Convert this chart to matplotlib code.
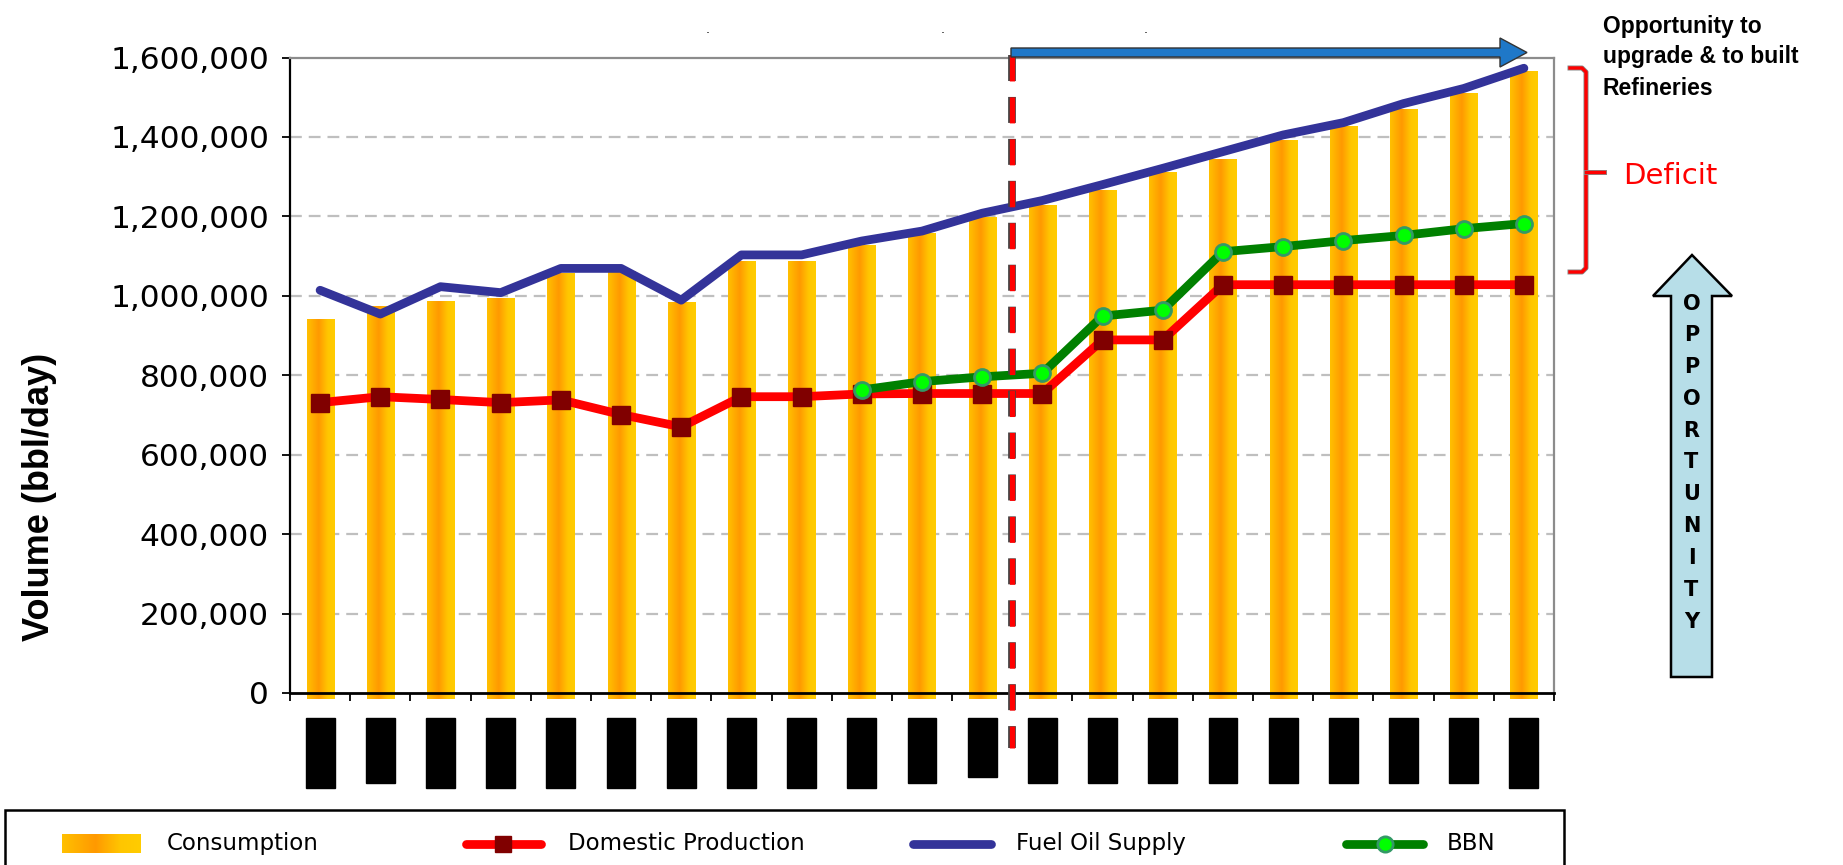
import numpy as np
import matplotlib
matplotlib.use('Agg')
import matplotlib.pyplot as plt
import matplotlib.patheffects as pe
from matplotlib import transforms, font_manager
from matplotlib.colors import LinearSegmentedColormap
from matplotlib.patches import Rectangle, Polygon
from matplotlib.lines import Line2D
from matplotlib.ticker import FuncFormatter

plt.rcParams['lines.scale_dashes'] = False

# volumes in bbl/day, one value per period
consumption = [941000, 974000, 987000, 994000, 1057000, 1062000, 983000, 1087000,
               1087000, 1128000, 1157000, 1197000, 1228000, 1264000, 1310000, 1344000,
               1390000, 1426000, 1470000, 1510000, 1566000]
fuel_oil_supply = [1014000, 954000, 1023000, 1008000, 1069000, 1069000, 989000, 1103000,
                   1103000, 1138000, 1163000, 1208000, 1240000, 1280000, 1321000, 1363000,
                   1405000, 1436000, 1484000, 1522000, 1573000]
domestic_prod = [731000, 746000, 739000, 731000, 738000, 701000, 670000, 746000,
                 746000, 753000, 754000, 754000, 754000, 889000, 889000, 1028000,
                 1028000, 1028000, 1028000, 1028000, 1028000]
bbn = [np.nan] * 9 + [763000, 784000, 796000, 805000, 949000, 964000, 1111000,
                      1124000, 1139000, 1152000, 1169000, 1182000]
y_ticks = [0, 200000, 400000, 600000, 800000, 1000000, 1200000, 1400000, 1600000]
legend_names = ['Consumption', 'Domestic Production', 'Fuel Oil Supply', 'BBN']
note_lines = ['Opportunity to', 'upgrade & to built', 'Refineries']

# heights (px) of the blacked-out period labels
label_box_px = [70, 65, 70, 70, 70, 70, 70, 70, 70, 70, 65, 59,
                65, 65, 65, 65, 65, 65, 65, 65, 70]

W, H = 1843, 865


def fx(x):
    return x / W


def fy(y):
    return 1 - y / H


names = {f.name for f in font_manager.fontManager.ttflist}
bold_face = 'Liberation Sans' if 'Liberation Sans' in names else 'DejaVu Sans'
if bold_face == 'Liberation Sans':
    ylab_kw = dict(family=bold_face, fontsize=26, fontweight='bold')
    note_kw = dict(family=bold_face, fontsize=16.5, fontweight='bold')
else:
    ylab_kw = dict(family=bold_face, fontsize=22, fontweight='bold')
    note_kw = dict(family=bold_face, fontsize=14, fontweight='bold')

fig = plt.figure(figsize=(W / 100, H / 100), dpi=100)
ax_top, ax_bot = 57.5, 693
ax = fig.add_axes([fx(290), fy(ax_bot), (1554 - 290) / W, (ax_bot - ax_top) / H])

x = np.arange(len(consumption))

# gradient-filled bars
bar_cmap = LinearSegmentedColormap.from_list(
    'bar', [(0, '#FFC000'), (0.42, '#FF9900'), (0.75, '#FFC600'), (1, '#FFCC00')])
grad = np.linspace(0, 1, 64).reshape(1, -1)
bar_w = 0.45
drop = 15000
for xi, v in zip(x, consumption):
    im = ax.imshow(grad, cmap=bar_cmap, extent=(xi - bar_w / 2, xi + bar_w / 2, -drop, v),
                   aspect='auto', zorder=2, interpolation='bilinear')
    im.set_clip_on(False)

ax.plot(x, fuel_oil_supply, color='#333399', lw=6.3, zorder=3,
        solid_joinstyle='round', solid_capstyle='round')
ax.plot(x, domestic_prod, color='#FF0000', lw=6.3, zorder=4, marker='s', ms=13,
        mfc='#800000', mec='#800000', solid_capstyle='round')
ax.plot(x, bbn, color='#008000', lw=6.3, zorder=5, marker='o', ms=11.5,
        mfc='#00FF00', mec='#339966', mew=2, solid_capstyle='round')

ax.set_xlim(-0.5, len(x) - 0.5)
ax.set_ylim(0, 1600000)
ax.set_yticks(y_ticks)
ax.yaxis.set_major_formatter(FuncFormatter(lambda v, p: f'{v:,.0f}'))
ax.tick_params(axis='y', labelsize=22.5, length=6, width=1.3, pad=9, direction='out')
ax.set_xticks(np.arange(-0.5, len(x), 1))
ax.tick_params(axis='x', length=6, width=1.3, labelbottom=False, direction='out')
ax.set_axisbelow(True)
for yv in y_ticks[1:-1]:
    ax.axhline(yv, color='#BFBFBF', lw=1.6, dashes=(8.5, 5), zorder=1)

ax.spines['left'].set_linewidth(1.6)
ax.spines['bottom'].set_linewidth(2)
for s in ['top', 'right']:
    ax.spines[s].set_color('#8C8C8C')
    ax.spines[s].set_linewidth(1.6)

fig.text(fx(40), fy(497), 'Volume (bbl/day)', rotation=90, ha='center', va='center', **ylab_kw)

# blacked-out period labels
ax_h = ax_bot - ax_top
xt = ax.get_xaxis_transform()
for xi, h in zip(x, label_box_px):
    ax.add_patch(Rectangle((xi - 0.24, -(718 - ax_bot) / ax_h), 0.48, -h / ax_h,
                           transform=xt, color='black', clip_on=False, zorder=2))

# divider between historic and outlook periods
bt = transforms.blended_transform_factory(ax.transData, fig.transFigure)
fig.add_artist(Line2D([11.5, 11.5], [fy(55), fy(748)], transform=bt, color='#FF0000',
                      lw=3.8, dashes=(18.7, 11.5), zorder=6,
                      path_effects=[pe.Stroke(linewidth=5.6, foreground='#444444'), pe.Normal()]))

# horizontal opportunity arrow
arrow_px = [(1011, 48), (1500, 48), (1500, 38), (1527, 52.5), (1500, 67), (1500, 57), (1011, 57)]
fig.add_artist(Polygon([(fx(a), fy(b)) for a, b in arrow_px], closed=True, transform=fig.transFigure,
                       fc='#1F78C8', ec='#333333', lw=1, zorder=7))

# deficit bracket
brk = [(1570, 68), (1582, 68), (1586, 72), (1586, 268), (1582, 272), (1570, 272)]
fig.add_artist(Line2D([fx(a) for a, b in brk], [fy(b) for a, b in brk], transform=fig.transFigure,
                      color='#FF0000', lw=2.4, solid_joinstyle='round', zorder=6,
                      path_effects=[pe.Stroke(linewidth=3.6, foreground='#888888'), pe.Normal()]))
fig.add_artist(Line2D([fx(1586), fx(1604)], [fy(171.5), fy(171.5)], transform=fig.transFigure,
                      color='#FF0000', lw=2.4, zorder=6,
                      path_effects=[pe.Stroke(linewidth=3.6, foreground='#888888'), pe.Normal()]))
fig.text(fx(1623), fy(184), 'Deficit', color='#FF0000', fontsize=21, va='baseline')

for line, base in zip(note_lines, [33.3, 63.3, 95]):
    fig.text(fx(1603), fy(base), line, va='baseline', **note_kw)

# vertical OPPORTUNITY arrow
up_px = [(1671, 677), (1671, 296), (1653, 296), (1692, 255), (1732, 296), (1712, 296), (1712, 677)]
fig.add_artist(Polygon([(fx(a), fy(b)) for a, b in up_px], closed=True, transform=fig.transFigure,
                       fc='#B7DEE8', ec='black', lw=1.8, zorder=6))
for k, ch in enumerate('OPPORTUNITY'):
    fig.text(fx(1691.5), fy(303.5 + k * 31.8), ch, ha='center', va='center',
             fontsize=15, fontweight='bold', zorder=7)

# remnants of the clipped heading
for px_x in [708, 943, 1146]:
    fig.text(fx(px_x), fy(33), '.', fontsize=9, ha='center', va='baseline')

# legend
fig.add_artist(Rectangle((fx(4.6), fy(910)), (1564 - 4.6) / W, (910 - 810) / H, fill=False,
                         ec='black', lw=1.8, transform=fig.transFigure))
ly = fy(843.5)
sw = fig.add_axes([fx(62), fy(853), 79 / W, 19 / H])
sw.imshow(grad, cmap=bar_cmap, aspect='auto', interpolation='bilinear')
sw.axis('off')
fig.text(fx(166.5), ly, legend_names[0], va='center', fontsize=16.5)

fig.add_artist(Line2D([fx(466), fx(541)], [ly, ly], transform=fig.transFigure, color='#FF0000',
                      lw=6.3, solid_capstyle='round'))
fig.add_artist(Line2D([fx(503.5)], [ly], transform=fig.transFigure, marker='s', ms=12,
                      mfc='#800000', mec='#800000', ls='none'))
fig.text(fx(568), ly, legend_names[1], va='center', fontsize=16.5)

fig.add_artist(Line2D([fx(913), fx(991)], [ly, ly], transform=fig.transFigure, color='#333399',
                      lw=6.3, solid_capstyle='round'))
fig.text(fx(1015.5), ly, legend_names[2], va='center', fontsize=16.5)

fig.add_artist(Line2D([fx(1346), fx(1423)], [ly, ly], transform=fig.transFigure, color='#008000',
                      lw=6.3, solid_capstyle='round'))
fig.add_artist(Line2D([fx(1384.5)], [ly], transform=fig.transFigure, marker='o', ms=11,
                      mfc='#00FF00', mec='#339966', mew=2, ls='none'))
fig.text(fx(1447), ly, legend_names[3], va='center', fontsize=16.5)

fig.savefig('out.png', dpi=100)
